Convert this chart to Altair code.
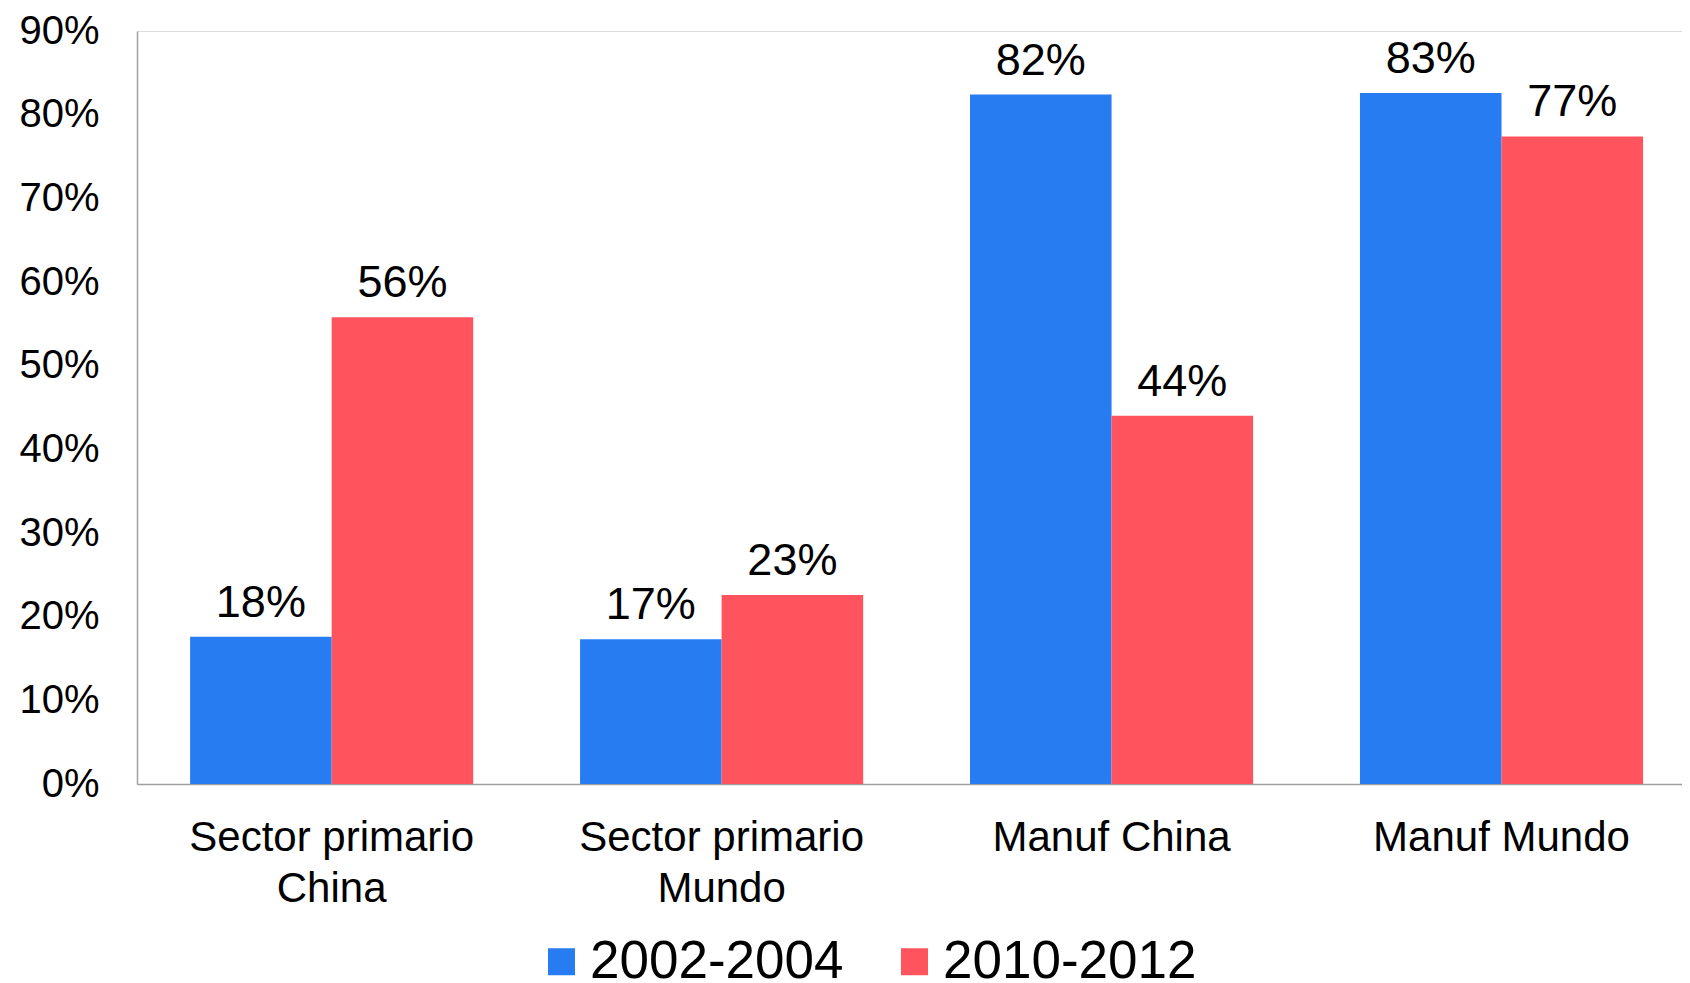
import altair as alt
import pandas as pd

categories = ["Sector primario|China", "Sector primario|Mundo", "Manuf China", "Manuf Mundo"]
periods = ["2002-2004", "2010-2012"]
values_2002_2004 = [0.176, 0.173, 0.824, 0.826]
values_2010_2012 = [0.558, 0.226, 0.440, 0.774]
colors = ["#277CF2", "#FF545D"]
y_ticks = [0, 0.1, 0.2, 0.3, 0.4, 0.5, 0.6, 0.7, 0.8, 0.9]

rows = []
for c, a, b in zip(categories, values_2002_2004, values_2010_2012):
    rows.append({"cat": c, "period": periods[0], "value": a})
    rows.append({"cat": c, "period": periods[1], "value": b})
df = pd.DataFrame(rows)

FONT = "Liberation Sans"

x_enc = alt.X(
    "cat:N",
    sort=categories,
    scale=alt.Scale(paddingInner=0.274, paddingOuter=0.118, align=0.577),
    axis=alt.Axis(
        title=None,
        labelAngle=0,
        labelExpr="split(datum.label, '|')",
        labelFontSize=42,
        labelLineHeight=51,
        labelPadding=33,
        labelLimit=0,
        labelFont=FONT,
        labelColor="#000000",
        ticks=False,
        domainColor="#a0a0a0",
        domainWidth=1.5,
    ),
)
xoff = alt.XOffset("period:N", sort=periods)
y_enc = alt.Y(
    "value:Q",
    scale=alt.Scale(domain=[0, 0.9], nice=False),
    axis=alt.Axis(
        title=None,
        values=y_ticks,
        format=".0%",
        labelFontSize=40,
        labelFont=FONT,
        labelColor="#000000",
        labelPadding=38,
        ticks=False,
        grid=False,
        domainColor="#a0a0a0",
        domainWidth=1.5,
    ),
)

bars = alt.Chart(df).mark_bar().encode(
    x=x_enc,
    xOffset=xoff,
    y=y_enc,
    color=alt.Color(
        "period:N",
        sort=periods,
        scale=alt.Scale(domain=periods, range=colors),
        legend=alt.Legend(
            title=None,
            orient="none",
            direction="horizontal",
            legendX=398,
            legendY=904,
            symbolType="square",
            symbolSize=729,
            symbolStrokeWidth=0,
            labelFontSize=53,
            labelFont=FONT,
            labelColor="#000000",
            labelOffset=2,
            labelLimit=0,
            columnPadding=44,
        ),
    ),
)

labels = alt.Chart(df).mark_text(
    baseline="alphabetic", dy=-20, fontSize=45, font=FONT, color="#000000"
).encode(
    x=alt.X("cat:N", sort=categories),
    xOffset=xoff,
    y="value:Q",
    text=alt.Text("value:Q", format=".0%"),
)

chart = (
    alt.layer(bars, labels)
    .properties(
        width=1545,
        height=753,
        padding={"left": 129, "top": 23, "right": 0, "bottom": 200},
        autosize=alt.AutoSizeParams(type="none"),
    )
    .configure_view(stroke=None)
    .configure(background="#ffffff")
)

chart.save("out.html", embed_options={"renderer": "svg", "actions": False})
